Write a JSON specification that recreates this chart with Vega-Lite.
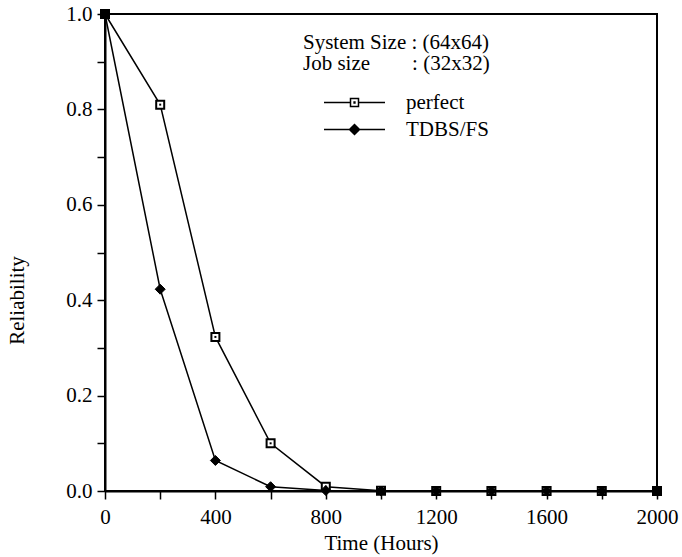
{
  "$schema": "https://vega.github.io/schema/vega-lite/v6.json",
  "width": 552,
  "height": 477,
  "autosize": "none",
  "padding": {"left": 105, "top": 14, "right": 25, "bottom": 66},
  "background": "white",
  "config": {
    "font": "Liberation Serif",
    "view": {"stroke": "black", "strokeWidth": 2},
    "axis": {
      "grid": false,
      "domainColor": "black",
      "domainWidth": 2,
      "tickColor": "black",
      "tickWidth": 1.5,
      "tickSize": 8,
      "labelFont": "Liberation Serif",
      "labelFontSize": 21,
      "labelColor": "black",
      "titleFont": "Liberation Serif",
      "titleFontSize": 21,
      "titleFontWeight": "normal",
      "titleColor": "black"
    }
  },
  "data": {
    "values": [
      {"time": 0, "series": "perfect", "rel": 1.0},
      {"time": 200, "series": "perfect", "rel": 0.81},
      {"time": 400, "series": "perfect", "rel": 0.323},
      {"time": 600, "series": "perfect", "rel": 0.1},
      {"time": 800, "series": "perfect", "rel": 0.009},
      {"time": 1000, "series": "perfect", "rel": 0.0005},
      {"time": 1200, "series": "perfect", "rel": 0},
      {"time": 1400, "series": "perfect", "rel": 0},
      {"time": 1600, "series": "perfect", "rel": 0},
      {"time": 1800, "series": "perfect", "rel": 0},
      {"time": 2000, "series": "perfect", "rel": 0},
      {"time": 0, "series": "TDBS/FS", "rel": 1.0},
      {"time": 200, "series": "TDBS/FS", "rel": 0.423},
      {"time": 400, "series": "TDBS/FS", "rel": 0.064},
      {"time": 600, "series": "TDBS/FS", "rel": 0.009},
      {"time": 800, "series": "TDBS/FS", "rel": 0.001},
      {"time": 1000, "series": "TDBS/FS", "rel": 0},
      {"time": 1200, "series": "TDBS/FS", "rel": 0},
      {"time": 1400, "series": "TDBS/FS", "rel": 0},
      {"time": 1600, "series": "TDBS/FS", "rel": 0},
      {"time": 1800, "series": "TDBS/FS", "rel": 0},
      {"time": 2000, "series": "TDBS/FS", "rel": 0}
    ]
  },
  "encoding": {
    "x": {
      "field": "time",
      "type": "quantitative",
      "scale": {"domain": [0, 2000], "nice": false},
      "axis": {
        "title": "Time (Hours)",
        "values": [0, 200, 400, 600, 800, 1000, 1200, 1400, 1600, 1800, 2000],
        "format": "d",
        "labelExpr": "datum.value % 400 === 0 ? datum.label : ''",
        "labelPadding": 7,
        "titlePadding": 5,
        "labelFlush": false,
        "encode": {
          "ticks": {"update": {"y2": {"signal": "datum.value % 400 === 0 ? 8 : 4"}}}
        }
      }
    },
    "y": {
      "field": "rel",
      "type": "quantitative",
      "scale": {"domain": [0, 1], "nice": false},
      "axis": {
        "title": "Reliability",
        "values": [0, 0.1, 0.2, 0.3, 0.4, 0.5, 0.6, 0.7, 0.8, 0.9, 1.0],
        "format": ".1f",
        "labelExpr": "round(datum.value * 10) % 2 === 0 ? datum.label : ''",
        "labelPadding": 5,
        "titleX": -78,
        "titleY": 286,
        "labelFlush": false,
        "encode": {
          "ticks": {"update": {"x2": {"signal": "round(datum.value * 10) % 2 === 0 ? -8 : -4"}}}
        }
      }
    }
  },
  "layer": [
    {
      "mark": {"type": "line", "strokeWidth": 1.5},
      "encoding": {
        "color": {
          "field": "series",
          "type": "nominal",
          "scale": {"domain": ["perfect", "TDBS/FS"], "range": ["black", "black"]},
          "legend": {
            "title": ["System Size : (64x64)", "Job size\u00a0\u00a0\u00a0\u00a0\u00a0\u00a0\u00a0\u00a0: (32x32)"],
            "orient": "none",
            "legendX": 198,
            "legendY": 18,
            "padding": 0,
            "titleFont": "Liberation Serif",
            "titleFontSize": 21,
            "titleFontWeight": "normal",
            "titleColor": "black",
            "titleLineHeight": 21,
            "titleLimit": 500,
            "titlePadding": 18,
            "labelFont": "Liberation Serif",
            "labelFontSize": 21,
            "labelColor": "black",
            "labelLimit": 300,
            "symbolSize": 100,
            "symbolOffset": 41,
            "labelOffset": 41,
            "rowPadding": 5,
            "encode": {
              "symbols": {
                "update": {
                  "shape": {"signal": "datum.value === 'perfect' ? 'M-6.1,0H-0.8M0.8,0H6.1M-0.8,-0.8H0.8V0.8H-0.8ZM-0.08,-0.08H0.08V0.08H-0.08Z' : 'M-6.1,0H-1M1,0H6.1M-1,0L0,-1L1,0L0,1Z'"},
                  "fill": {"signal": "datum.value === 'perfect' ? 'white' : 'black'"},
                  "stroke": {"value": "black"},
                  "strokeWidth": {"value": 1.5},
                  "size": {"value": 100},
                  "opacity": {"value": 1}
                }
              }
            }
          }
        }
      }
    },
    {
      "transform": [{"filter": "datum.series === 'perfect'"}],
      "mark": {"type": "point", "shape": "square", "fill": "white", "stroke": "black", "strokeWidth": 2, "size": 64, "opacity": 1},
      "encoding": {}
    },
    {
      "transform": [{"filter": "datum.series === 'perfect'"}],
      "mark": {"type": "square", "color": "black", "size": 4, "opacity": 1},
      "encoding": {}
    },
    {
      "transform": [{"filter": "datum.series === 'TDBS/FS'"}],
      "mark": {"type": "point", "shape": "diamond", "fill": "black", "stroke": "black", "strokeWidth": 1, "size": 100, "opacity": 1},
      "encoding": {}
    }
  ]
}
